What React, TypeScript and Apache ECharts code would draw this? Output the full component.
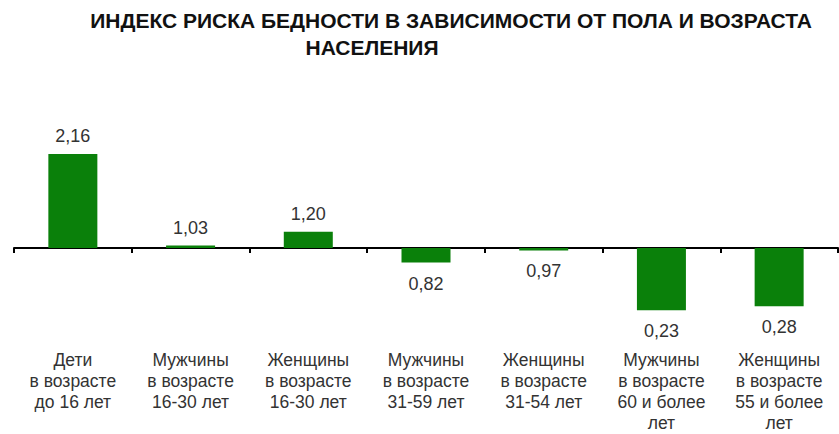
import React, { useEffect, useRef } from "react";
import * as echarts from "echarts";

const TITLE_LINE_1 = "ИНДЕКС РИСКА БЕДНОСТИ В ЗАВИСИМОСТИ ОТ ПОЛА И ВОЗРАСТА";
const TITLE_LINE_2 = "НАСЕЛЕНИЯ";

const categories = [
  "Дети\nв возрасте\nдо 16 лет",
  "Мужчины\nв возрасте\n16-30 лет",
  "Женщины\nв возрасте\n16-30 лет",
  "Мужчины\nв возрасте\n31-59 лет",
  "Женщины\nв возрасте\n31-54 лет",
  "Мужчины\nв возрасте\n60 и более\nлет",
  "Женщины\nв возрасте\n55 и более\nлет",
];

const values = [2.16, 1.03, 1.2, 0.82, 0.97, 0.23, 0.28];

const BASE = 1;

export default function App() {
  const ref = useRef<HTMLDivElement>(null);

  useEffect(() => {
    if (!ref.current) return;
    const chart = echarts.init(ref.current, null, { renderer: "svg" });
    const font = "'Liberation Sans', Arial, sans-serif";
    chart.setOption({
      animation: false,
      backgroundColor: "#ffffff",
      title: [
        {
          text: TITLE_LINE_1,
          left: 451,
          top: 10,
          padding: 0,
          textAlign: "center",
          textStyle: {
            fontFamily: font,
            fontSize: 21,
            fontWeight: "bold",
            color: "#111111",
          },
        },
        {
          text: TITLE_LINE_2,
          left: 372,
          top: 37,
          padding: 0,
          textAlign: "center",
          textStyle: {
            fontFamily: font,
            fontSize: 21,
            fontWeight: "bold",
            color: "#111111",
          },
        },
      ],
      grid: {
        left: 14,
        right: 1,
        top: 126.5,
        height: 202.5,
        containLabel: false,
        outerBoundsMode: "none",
      },
      xAxis: {
        type: "category",
        data: categories,
        boundaryGap: true,
        axisLine: { onZero: true, lineStyle: { color: "#000000", width: 2 } },
        axisTick: { show: true, alignWithLabel: false, length: 5, lineStyle: { color: "#000000", width: 2 } },
        axisLabel: {
          margin: 20,
          interval: 0,
          fontFamily: font,
          fontSize: 17.5,
          lineHeight: 21,
          color: "#333333",
          align: "center",
          hideOverlap: false,
        },
      },
      yAxis: {
        type: "value",
        min: -1,
        max: 1.5,
        show: false,
        splitLine: { show: false },
      },
      series: [
        {
          type: "bar",
          data: values.map((v) => {
            const d = +(v - BASE).toFixed(2);
            return d < 0 ? { value: d, label: { distance: 12 } } : d;
          }),
          barWidth: 49,
          itemStyle: { color: "#0a800a" },
          label: {
            show: true,
            position: "outside",
            distance: 9,
            fontFamily: font,
            fontSize: 18,
            color: "#333333",
            formatter: (p: any) => values[p.dataIndex].toFixed(2).replace(".", ","),
          },
        },
      ],
    });
    return () => chart.dispose();
  }, []);

  return (
    <div
      ref={ref}
      style={{ position: "fixed", left: 0, top: 0, width: 839, height: 434 }}
    />
  );
}
